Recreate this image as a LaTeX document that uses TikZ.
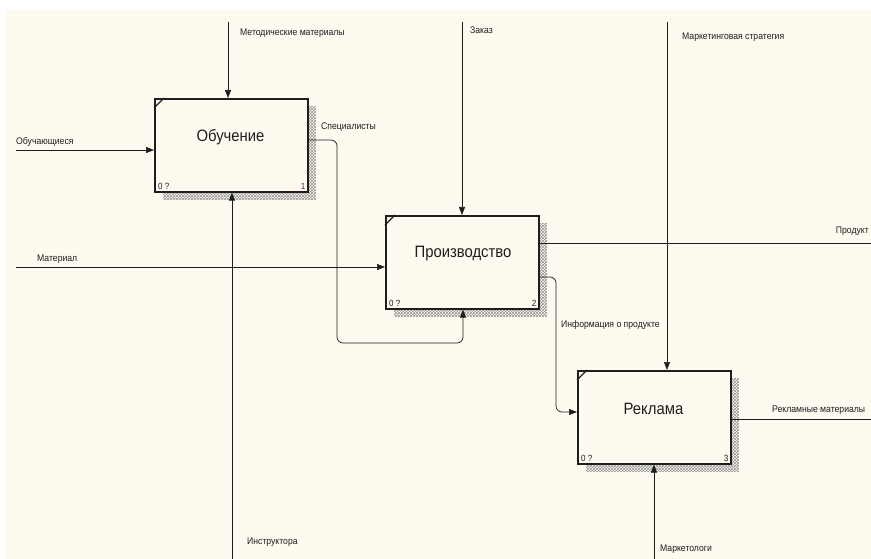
\documentclass[tikz,border=0pt]{standalone}
\usepackage{fontspec}
\setmainfont{Liberation Sans}
\newfontfamily\narrowfont[FakeStretch=0.9]{Liberation Sans}
\usetikzlibrary{arrows.meta,shadows,patterns}
\definecolor{paper}{RGB}{254,250,240}
\definecolor{ink}{RGB}{30,30,30}
\definecolor{boxnum}{RGB}{96,32,96}
\tikzstyle{every node}=[inner sep=0pt,text=ink]
\tikzstyle{func}=[draw=ink,line width=1.6pt,fill=paper,minimum width=153pt,minimum height=93pt,anchor=north west,drop shadow={shadow xshift=8pt,shadow yshift=-8pt,pattern=crosshatch,pattern color=gray!85,opacity=1}]
\tikzstyle{title}=[font=\narrowfont\fontsize{16.5}{16.5}\selectfont]
\tikzstyle{num}=[font=\narrowfont\fontsize{9}{9}\selectfont]
\tikzstyle{lbl}=[font=\narrowfont\fontsize{9.6}{9.6}\selectfont,anchor=west]
\tikzstyle{arr}=[draw=ink,line width=0.7pt,-{Triangle[length=8pt,width=6pt]}]
\tikzstyle{flow}=[draw=ink,line width=0.7pt]

\begin{document}
\begin{tikzpicture}[x=1pt,y=-1pt]
\useasboundingbox (0,0) rectangle (871,559);
\fill[white] (0,0) rectangle (871,559);
\fill[paper] (5,10) rectangle (871,559);
\node[func] (learn) at (154,98) {};
\node[func] (prod) at (385,215) {};
\node[func] (adv) at (577,370) {};
\draw[flow,line width=1.2pt] ([shift={(0,10)}]learn.north west)--([shift={(10,0)}]learn.north west);
\draw[flow,line width=1.2pt] ([shift={(0,10)}]prod.north west)--([shift={(10,0)}]prod.north west);
\draw[flow,line width=1.2pt] ([shift={(0,10)}]adv.north west)--([shift={(10,0)}]adv.north west);
\node[title] (learnt) at (230.5,137) {Обучение};
\node[title] (prodt) at (463,254) {Производство};
\node[title] (advt) at (653.5,409) {Реклама};
\node[num,anchor=south west] (learn0) at ([shift={(4,-3)}]learn.south west) {0 ?};
\node[num,anchor=south east,text=boxnum] (learn1) at ([shift={(-3,-3)}]learn.south east) {1};
\node[num,anchor=south west] (prod0) at ([shift={(4,-3)}]prod.south west) {0 ?};
\node[num,anchor=south east] (prod1) at ([shift={(-3,-3)}]prod.south east) {2};
\node[num,anchor=south west] (adv0) at ([shift={(4,-3)}]adv.south west) {0 ?};
\node[num,anchor=south east] (adv1) at ([shift={(-3,-3)}]adv.south east) {3};
\coordinate (metsrc) at (228,22);
\coordinate (ordsrc) at (462,22);
\coordinate (mktsrc) at (667,22);
\coordinate (stusrc) at (16,150);
\coordinate (matsrc) at (16,267);
\coordinate (inssrc) at (232,559);
\coordinate (mkrsrc) at (654,559);
\coordinate (prodout) at (871,243);
\coordinate (advout) at (871,419);
\draw[arr] (metsrc)--(metsrc|-learn.north);
\draw[arr] (ordsrc)--(ordsrc|-prod.north);
\draw[arr] (mktsrc)--(mktsrc|-adv.north);
\draw[arr] (stusrc)--(stusrc-|learn.west);
\draw[arr] (matsrc)--(matsrc-|prod.west);
\draw[arr] (inssrc)--(inssrc|-learn.south);
\draw[arr] (mkrsrc)--(mkrsrc|-adv.south);
\draw[arr,rounded corners=6pt] (learn.east|-0,140)--(337,140)--(337,343)--(463,343)--(463,0|-prod.south);
\draw[arr,rounded corners=6pt] (prod.east|-0,277)--(556,277)--(556,412)--(adv.west|-0,412);
\draw[flow] (prodout-|prod.east)--(prodout);
\draw[flow] (advout-|adv.east)--(advout);
\node[lbl] (metl) at (240,33) {Методические материалы};
\node[lbl] (ordl) at (470,30) {Заказ};
\node[lbl] (mktl) at (682,37) {Маркетинговая стратегия};
\node[lbl] (stul) at (16,142) {Обучающиеся};
\node[lbl] (matl) at (37,259) {Материал};
\node[lbl] (insl) at (247,542) {Инструктора};
\node[lbl] (mkrl) at (660,549) {Маркетологи};
\node[lbl] (spel) at (321,127) {Специалисты};
\node[lbl,anchor=east] (prol) at (869,231) {Продукт};
\node[lbl] (infl) at (561,325) {Информация о продукте};
\node[lbl] (advl) at (772,410) {Рекламные материалы};
\end{tikzpicture}
\end{document}
